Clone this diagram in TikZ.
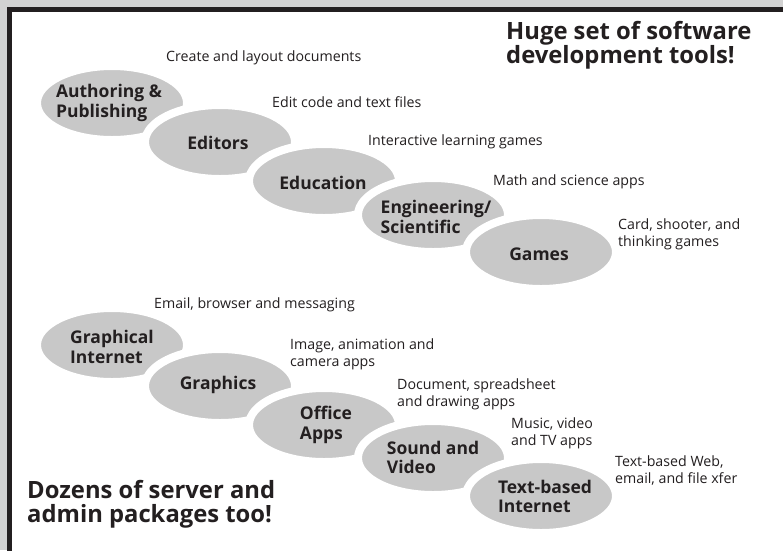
\documentclass[tikz,border=0pt]{standalone}
\usepackage{fontspec}
\setmainfont{Open Sans}
\usetikzlibrary{shapes.geometric}
\definecolor{ink}{HTML}{231F20}
\definecolor{bub}{HTML}{C8C8C8}
\definecolor{stone}{HTML}{D2D2D2}
\begin{document}
\begin{tikzpicture}[x=1pt,y=-1pt,
 bubble/.style={ellipse, draw=white, line width=8pt, fill=bub, minimum width=150pt, minimum height=74pt, inner sep=0pt},
 cat/.style={font=\fontsize{17.5}{19.5}\selectfont\bfseries, text=ink, align=left, inner sep=0pt},
 note/.style={font=\fontsize{14.2}{17}\selectfont, text=ink, align=left, inner sep=0pt, anchor=west},
 head/.style={font=\fontsize{23.8}{24}\selectfont\bfseries, text=ink, align=left, inner sep=0pt, anchor=west}]
\useasboundingbox (0,0) rectangle (783,550);
\fill[stone] (0,0) rectangle (783,550);
\fill[white] (12,12) rectangle (783,550);
\draw[ink, line width=5pt] (9.5,552) -- (9.5,9.5) -- (785,9.5);
% upper group
\node[bubble] (b1) at (112,103) {};
\node[bubble] (b2) at (220,142) {};
\node[bubble] (b3) at (324,181) {};
\node[bubble] (b4) at (433,215) {};
\node[bubble] (b5) at (541,252) {};
% lower group
\node[bubble] (b6) at (112,345) {};
\node[bubble] (b7) at (220,386) {};
\node[bubble] (b8) at (324,425) {};
\node[bubble] (b9) at (433,458) {};
\node[bubble] (b10) at (541,496) {};
% category labels
\node[cat] (t1) at (109,103) {Authoring \&\\Publishing};
\node[cat] (t2) at (218,143) {Editors};
\node[cat] (t3) at (323,183) {Education};
\node[cat] (t4) at (436,217) {Engineering/\\Scientific};
\node[cat] (t5) at (539,254) {Games};
\node[cat] (t6) at (112,347) {Graphical\\Internet};
\node[cat] (t7) at (218,385) {Graphics};
\node[cat] (t8) at (326,425) {Office\\Apps};
\node[cat] (t9) at (433,457.5) {Sound and\\Video};
\node[cat] (t10) at (545,496.5) {Text-based\\Internet};
% notes
\node[note] (n1) at (166,58) {Create and layout documents};
\node[note] (n2) at (272,102) {Edit code and text files};
\node[note] (n3) at (368,142) {Interactive learning games};
\node[note] (n4) at (493,182) {Math and science apps};
\node[note] (n5) at (618,234.5) {Card, shooter, and\\thinking games};
\node[note] (n6) at (154,305) {Email, browser and messaging};
\node[note] (n7) at (290,354.5) {Image, animation and\\camera apps};
\node[note] (n8) at (397,394.5) {Document, spreadsheet\\and drawing apps};
\node[note] (n9) at (511,433.5) {Music, video\\and TV apps};
\node[note] (n10) at (615,471) {Text-based Web,\\email, and file xfer};
% headings
\node[head] (h1) at (506,45) {Huge set of software\\development tools!};
\node[head] (h2) at (27,504.5) {Dozens of server and\\admin packages too!};
\end{tikzpicture}
\end{document}
